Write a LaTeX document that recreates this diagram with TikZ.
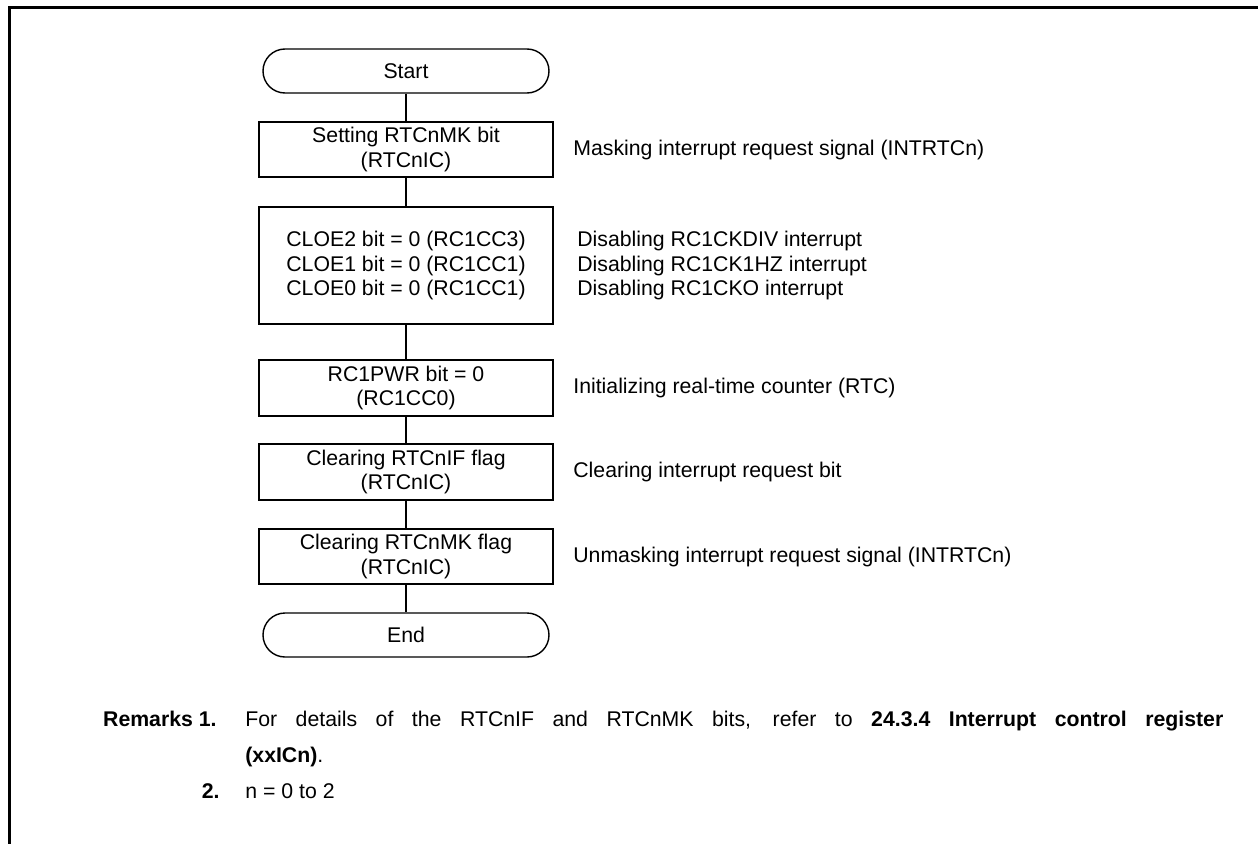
\documentclass[tikz,border=0pt]{standalone}
\usepackage{fontspec}
\setmainfont{Liberation Sans}
\usetikzlibrary{positioning}

\begin{document}
\begin{tikzpicture}[
  font=\fontsize{12.1}{14.2}\selectfont,
  term/.style  = {draw, line width=0.8pt, rounded corners=0.44cm,
                  minimum width=5.72cm, minimum height=0.88cm,
                  inner sep=0pt, text centered},
  proc/.style  = {draw, line width=0.75pt, minimum width=5.88cm,
                  inner sep=0pt, align=center},
  note/.style  = {anchor=west, inner sep=0pt, align=left},
  flow/.style  = {line width=0.6pt},
  rem/.style   = {anchor=base west, inner sep=0pt}
]
  \useasboundingbox (0,0) rectangle (25.16,-16.88);
  \draw[line width=0.06cm] (0.19,-16.88) -- (0.19,-0.144) -- (25.16,-0.144);

  \node[term] (start) at (8.12,-1.42) {Start};
  \node[proc, minimum height=1.10cm] (b1) at (8.12,-2.99)
    {Setting RTCnMK bit\\(RTCnIC)};
  \node[proc, minimum height=2.34cm] (b2) at (8.12,-5.31)
    {CLOE2 bit = 0 (RC1CC3)\\CLOE1 bit = 0 (RC1CC1)\\CLOE0 bit = 0 (RC1CC1)};
  \node[proc, minimum height=1.12cm] (b3) at (8.12,-7.76)
    {RC1PWR bit = 0\\(RC1CC0)};
  \node[proc, minimum height=1.12cm] (b4) at (8.12,-9.44)
    {Clearing RTCnIF flag\\(RTCnIC)};
  \node[proc, minimum height=1.10cm] (b5) at (8.12,-11.13)
    {Clearing RTCnMK flag\\(RTCnIC)};
  \node[term] (end) at (8.12,-12.70) {End};

  \foreach \from/\to in {start/b1,b1/b2,b2/b3,b3/b4,b4/b5,b5/end}
    \draw[flow] (\from) -- (\to);

  \node[note] (n1) at (11.46,-2.99) {Masking interrupt request signal (INTRTCn)};
  \node[note] (n2) at (11.54,-5.31)
    {Disabling RC1CKDIV interrupt\\Disabling RC1CK1HZ interrupt\\Disabling RC1CKO interrupt};
  \node[note] (n3) at (11.46,-7.76) {Initializing real-time counter (RTC)};
  \node[note] (n4) at (11.46,-9.44) {Clearing interrupt request bit};
  \node[note] (n5) at (11.46,-11.13) {Unmasking interrupt request signal (INTRTCn)};

  % remarks
  \node[rem, anchor=base east] (r1) at (4.34,-14.52) {\textbf{Remarks 1.}};
  \node[rem] (r1a) at (4.90,-14.52)
    {\makebox[19.56cm][s]{For details of the RTCnIF and RTCnMK bits, refer to \textbf{24.3.4 Interrupt control register}}};
  \node[rem] (r1b) at (4.90,-15.24) {\textbf{(xxICn)}.};
  \node[rem, anchor=base east] (r2) at (4.40,-15.96) {\textbf{2.}};
  \node[rem] (r2a) at (4.90,-15.96) {n = 0 to 2};
\end{tikzpicture}
\end{document}
